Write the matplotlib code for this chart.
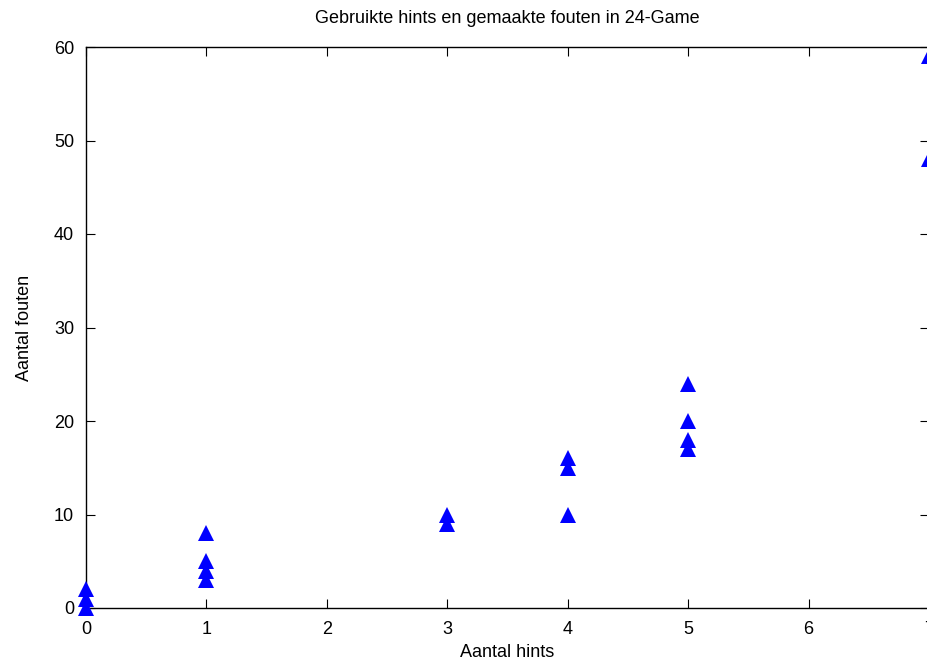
import matplotlib
matplotlib.use('Agg')
import matplotlib.pyplot as plt

### data
hints = [0, 0, 0, 1, 1, 1, 1, 3, 3, 4, 4, 4, 5, 5, 5, 5, 7, 7]
fouten = [0, 1, 2, 3, 4, 5, 8, 9, 10, 10, 15, 16, 17, 18, 20, 24, 48, 59]

xticks = [0, 1, 2, 3, 4, 5, 6, 7]
yticks = [0, 10, 20, 30, 40, 50, 60]

plt.rcParams['font.family'] = ['Liberation Sans', 'DejaVu Sans']
fsz = 13

fig = plt.figure(figsize=(9.28, 6.63), dpi=100)
W, H = 928.0, 663.0
ax = fig.add_axes([86 / W, (H - 608) / H, (929 - 86) / W, (608 - 47) / H])

ax.plot(hints, fouten, linestyle='none', marker='^', markersize=11.5,
        color='#0000ff', markeredgewidth=0, clip_on=False, zorder=5)

ax.set_xlim(0, 7)
ax.set_ylim(0, 60)
ax.set_xticks(xticks)
ax.set_yticks(yticks)
ax.tick_params(axis='both', direction='in', length=6.5, width=0.8,
               top=True, right=True, labelsize=fsz, color='black')
ax.tick_params(axis='x', pad=9)
ax.tick_params(axis='y', pad=8.5)
for s in ax.spines.values():
    s.set_linewidth(1.0)

ax.set_title('Gebruikte hints en gemaakte fouten in 24-Game', fontsize=fsz, pad=17)
ax.set_xlabel('Aantal hints', fontsize=fsz, labelpad=5)
ax.set_ylabel('Aantal fouten', fontsize=fsz, labelpad=15)

plt.savefig('out.png', dpi=100)
